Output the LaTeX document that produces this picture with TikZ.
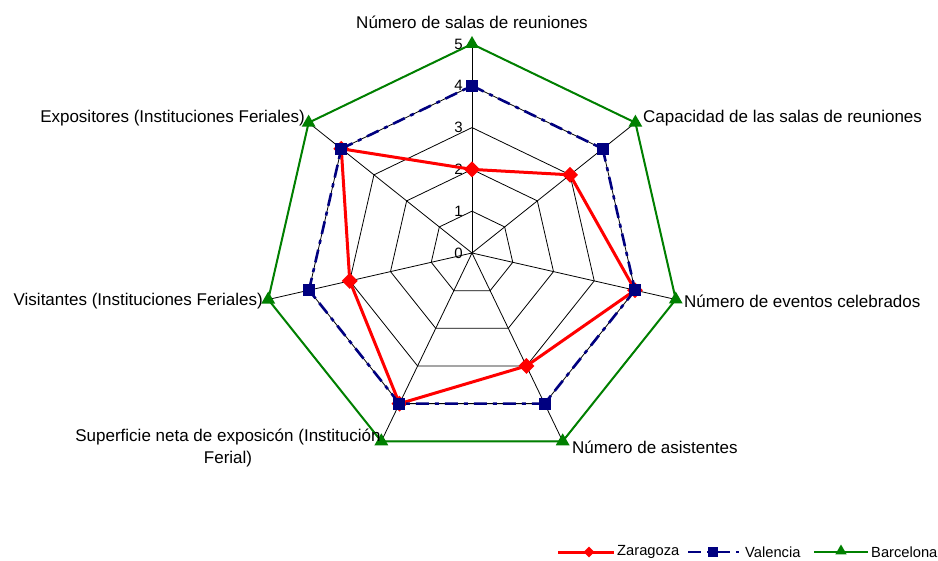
\documentclass[tikz,border=0pt]{standalone}
\usepackage{fontspec}
\setmainfont{Liberation Sans}
\usetikzlibrary{shapes.geometric}
\definecolor{zred}{RGB}{255,0,0}
\definecolor{vnavy}{RGB}{0,0,128}
\definecolor{bgreen}{RGB}{0,128,0}
\begin{document}
\begin{tikzpicture}[x=1pt,y=1pt,
 grid/.style={black, line width=0.8pt},
 axlab/.style={font=\fontsize{17}{22}\selectfont, inner sep=0pt},
 lvl/.style={font=\fontsize{15}{17}\selectfont, inner sep=0pt, anchor=east},
 leg/.style={font=\fontsize{14.7}{17}\selectfont, inner sep=0pt, anchor=west},
 zline/.style={zred, line width=3pt, line join=round},
 vline/.style={vnavy, line width=2.6pt, dash pattern=on 13pt off 6pt on 4pt off 6pt},
 bline/.style={bgreen, line width=2pt, line join=round},
 zmark/.style={diamond, fill=zred, inner sep=0pt, minimum width=16pt, minimum height=16pt},
 vmark/.style={rectangle, fill=vnavy, inner sep=0pt, minimum size=12pt},
 bmark/.style={regular polygon, regular polygon sides=3, fill=bgreen, inner sep=0pt, minimum size=16pt},
]
\path[use as bounding box, fill=white] (0,0) rectangle (938,-561);
\begin{scope}[shift={(472,-253)}]
\def\ur{41.8}
% grid polygons
\foreach \l in {1,...,5}
  \draw[grid] (90:{\l*\ur}) -- ({90-360/7}:{\l*\ur}) -- ({90-2*360/7}:{\l*\ur})
   -- ({90-3*360/7}:{\l*\ur}) -- ({90-4*360/7}:{\l*\ur}) -- ({90-5*360/7}:{\l*\ur})
   -- ({90-6*360/7}:{\l*\ur}) -- cycle;
% spokes
\coordinate (o) at (0,0);
\foreach \k in {0,...,6}
  \draw[grid] (o) -- ({90-\k*360/7}:{5*\ur});
% level labels
\foreach \l in {0,...,5}
  \node[lvl] (lv\l) at (-9,{\l*\ur}) {\l};
% data coordinates
\foreach \k/\z in {0/2,1/3,2/4,3/3,4/4,5/3,6/4}
  \coordinate (z\k) at ({90-\k*360/7}:{\z*\ur});
\foreach \k in {0,...,6}{
  \coordinate (v\k) at ({90-\k*360/7}:{4*\ur});
  \coordinate (b\k) at ({90-\k*360/7}:{5*\ur});
}
% Zaragoza
\draw[zline] (z0) -- (z1) -- (z2) -- (z3) -- (z4) -- (z5) -- (z6) -- cycle;
\foreach \k in {0,...,6} \node[zmark] (zm\k) at (z\k) {};
% Valencia
\draw[vline] (v0) -- (v1) -- (v2) -- (v3) -- (v4) -- (v5) -- (v6) -- cycle;
\foreach \k in {0,...,6} \node[vmark] (vm\k) at (v\k) {};
% Barcelona
\draw[bline] (b0) -- (b1) -- (b2) -- (b3) -- (b4) -- (b5) -- (b6) -- cycle;
\foreach \k in {0,...,6} \node[bmark] (bm\k) at (b\k) {};
\end{scope}
% axis labels
\node[axlab] (a0) at (472,-22) {Número de salas de reuniones};
\node[axlab, anchor=west] (a1) at (643,-118) {Capacidad de las salas de reuniones};
\node[axlab, anchor=west] (a2) at (684,-301) {Número de eventos celebrados};
\node[axlab, anchor=west] (a3) at (572,-447) {Número de asistentes};
\node[axlab, align=center] (a4) at (228,-448) {Superficie neta de exposicón (Institución\\Ferial)};
\node[axlab, anchor=east] (a5) at (263,-301) {Visitantes (Instituciones Feriales)};
\node[axlab, anchor=east] (a6) at (305,-118) {Expositores (Instituciones Feriales)};
% legend
\coordinate (lz1) at (558,-552); \coordinate (lz2) at (614,-552);
\coordinate (lv1) at (688,-552); \coordinate (lv2) at (739,-552);
\coordinate (lb1) at (814,-552); \coordinate (lb2) at (868,-552);
\draw[zline] (lz1) -- (lz2);
\node[zmark, minimum width=11pt, minimum height=11pt] (lzm) at (589,-552) {};
\node[leg] (lzt) at (617,-552) {Zaragoza};
\draw[vline] (lv1) -- (lv2);
\node[vmark, minimum size=10pt] (lvm) at (713,-552) {};
\node[leg] (lvt) at (745,-552) {Valencia};
\draw[bline] (lb1) -- (lb2);
\node[bmark, minimum size=13pt] (lbm) at (841,-551) {};
\node[leg] (lbt) at (871,-552) {Barcelona};
\end{tikzpicture}
\end{document}
